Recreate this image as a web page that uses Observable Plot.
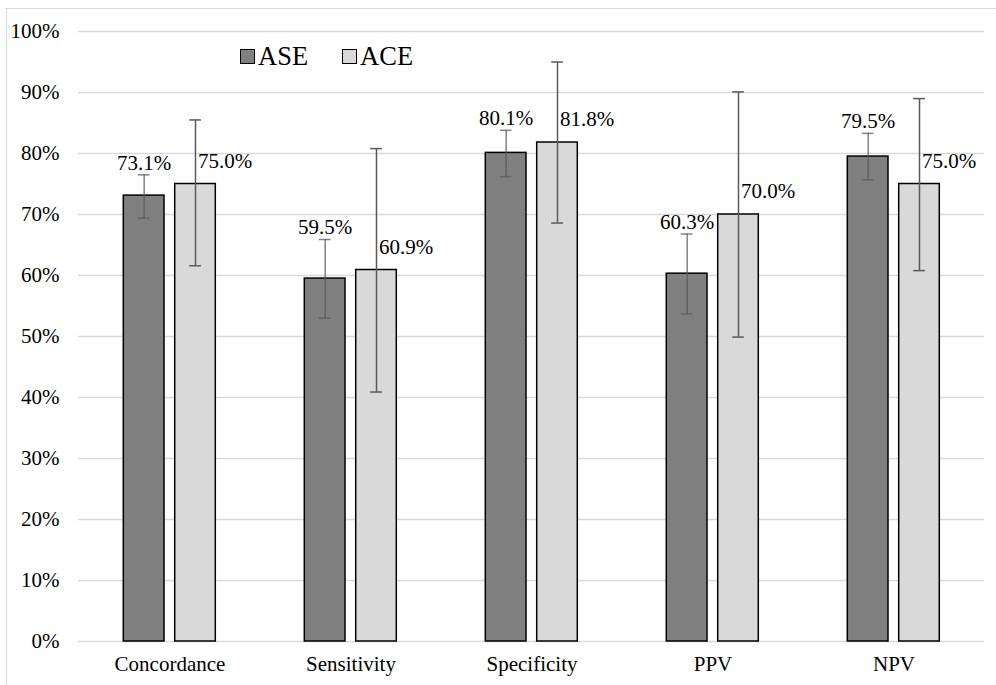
<!DOCTYPE html>
<html>
<head>
<meta charset="utf-8">
<script src="https://cdn.jsdelivr.net/npm/d3@7"></script>
<script src="https://cdn.jsdelivr.net/npm/@observablehq/plot@0.6"></script>
<style>
  html, body { margin: 0; padding: 0; background: #fff; }
  #wrap { position: relative; width: 996px; height: 685px; overflow: hidden; font-family: 'Liberation Serif'; }
  #frame { position: absolute; left: 6px; top: 8px; width: 1200px; height: 1000px; border-left: 1px solid #d9d9d9; border-top: 1px solid #d9d9d9; }
  #chart { position: absolute; left: 0; top: 0; }
  #legend { position: absolute; left: 240px; top: 43px; font-size: 26.5px; color: #000; display: flex; align-items: center; line-height: 1; font-family: 'Liberation Serif'; }
  .sw { display: inline-block; width: 13px; height: 13px; border: 1px solid #000; margin-right: 3px; }
  .item { display: flex; align-items: center; }
</style>
</head>
<body>
<div id="wrap">
  <div id="frame"></div>
  <div id="chart"></div>
  <div id="legend">
    <span class="item"><span class="sw" style="background:#808080"></span>ASE</span>
    <span class="item" style="margin-left:34px"><span class="sw" style="background:#d9d9d9"></span>ACE</span>
  </div>
</div>
<script>
const categories = ["Concordance", "Sensitivity", "Specificity", "PPV", "NPV"];
const aseValues = [73.1, 59.5, 80.1, 60.3, 79.5];
const aceValues = [75.0, 60.9, 81.8, 70.0, 75.0];
const aseLow  = [69.4, 53.0, 76.2, 53.7, 75.7];
const aseHigh = [76.5, 65.9, 83.8, 66.8, 83.3];
const aceLow  = [61.6, 40.9, 68.6, 49.9, 60.8];
const aceHigh = [85.5, 80.8, 95.0, 90.1, 89.0];
const yTicks = [0, 10, 20, 30, 40, 50, 60, 70, 80, 90, 100];

const ase = categories.map((c, i) => ({cat: c, v: aseValues[i] / 100, lo: aseLow[i] / 100, hi: aseHigh[i] / 100}));
const ace = categories.map((c, i) => ({cat: c, v: aceValues[i] / 100, lo: aceLow[i] / 100, hi: aceHigh[i] / 100}));
const fmt = d => d3.format(".1%")(d.v);
const FONT = "Liberation Serif";

const chart = Plot.plot({
  width: 996,
  height: 685,
  marginLeft: 78,
  marginRight: 12,
  marginTop: 31,
  marginBottom: 44,
  style: {fontFamily: FONT, fontSize: "21px", color: "#000", background: "transparent", overflow: "visible"},
  x: {domain: categories, padding: 0, label: null, axis: null},
  y: {domain: [0, 1], label: null, axis: null},
  marks: [
    Plot.ruleY(yTicks.map(t => t / 100), {stroke: "#d9d9d9", strokeWidth: 1.5}),
    Plot.axisY(yTicks.map(t => t / 100), {tickFormat: d3.format(".0%"), tickSize: 0, tickPadding: 19, fontFamily: FONT, fontSize: 21, fill: "#000", label: null}),
    Plot.axisX(categories, {tickSize: 0, tickPadding: 15, fontFamily: FONT, fontSize: 21, fill: "#000", label: null}),
    Plot.barY(ase, {x: "cat", y: "v", fill: "#808080", stroke: "#000", strokeWidth: 1.5, insetLeft: 44.3, insetRight: 96}),
    Plot.barY(ace, {x: "cat", y: "v", fill: "#d9d9d9", stroke: "#000", strokeWidth: 1.5, insetLeft: 95.7, insetRight: 44.7}),
    Plot.ruleX(ase, {x: "cat", y1: "lo", y2: "hi", dx: -25.8, stroke: "#595959", strokeOpacity: 0.75, strokeWidth: 1.5}),
    Plot.tickY(ase, {x: "cat", y: "lo", insetLeft: 58.8, insetRight: 110.5, stroke: "#595959", strokeOpacity: 0.75, strokeWidth: 1.5}),
    Plot.tickY(ase, {x: "cat", y: "hi", insetLeft: 58.8, insetRight: 110.5, stroke: "#595959", strokeOpacity: 0.75, strokeWidth: 1.5}),
    Plot.ruleX(ace, {x: "cat", y1: "lo", y2: "hi", dx: 25.5, stroke: "#595959", strokeWidth: 1.5}),
    Plot.tickY(ace, {x: "cat", y: "lo", insetLeft: 110.2, insetRight: 59.1, stroke: "#595959", strokeWidth: 1.5}),
    Plot.tickY(ace, {x: "cat", y: "hi", insetLeft: 110.2, insetRight: 59.1, stroke: "#595959", strokeWidth: 1.5}),
    Plot.text(ase, {x: "cat", y: "hi", text: fmt, dx: -25.8, dy: -12, fill: "#000", fontSize: 21, fontFamily: FONT}),
    Plot.text(ace, {x: "cat", y: "v", text: fmt, dx: 28, dy: -23, textAnchor: "start", fill: "#000", fontSize: 21, fontFamily: FONT})
  ]
});
document.getElementById("chart").appendChild(chart);
</script>
</body>
</html>
